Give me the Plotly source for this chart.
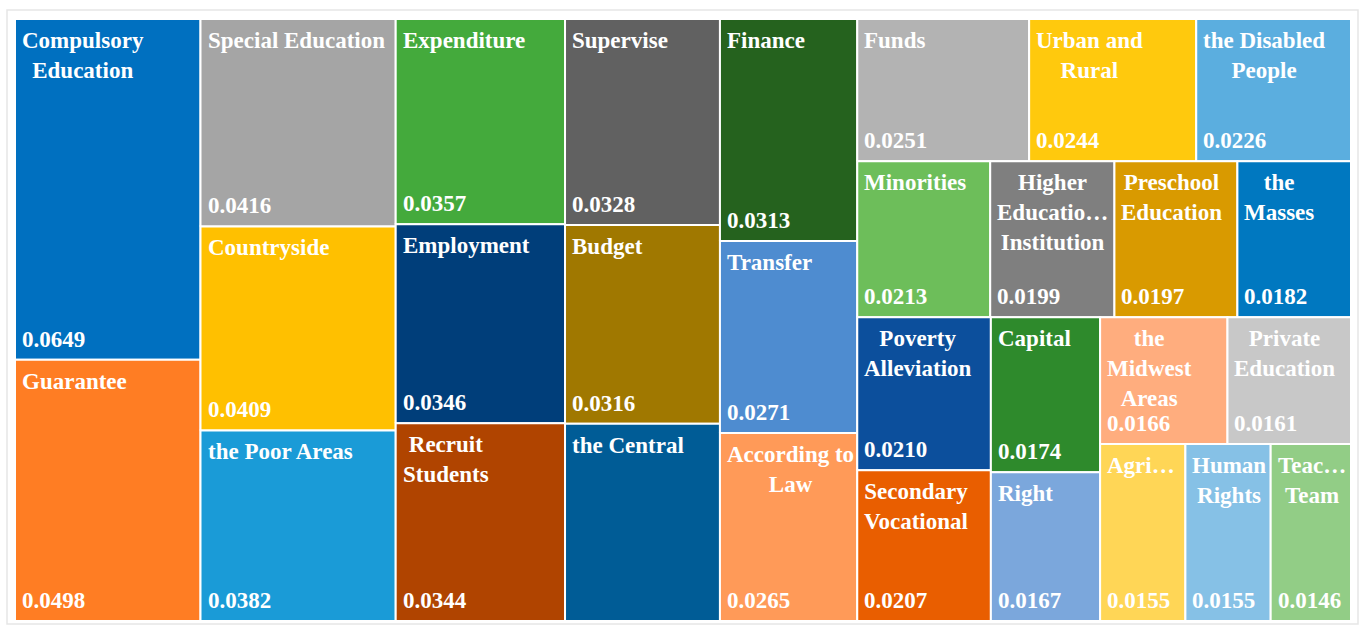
import plotly.graph_objects as go

# ---------------- data ----------------
categories = [
    "Compulsory Education", "Guarantee",
    "Special Education", "Countryside", "the Poor Areas",
    "Expenditure", "Employment", "Recruit Students",
    "Supervise", "Budget", "the Central",
    "Finance", "Transfer", "According to Law",
    "Funds", "Urban and Rural", "the Disabled People",
    "Minorities", "Higher Education Institution", "Preschool Education", "the Masses",
    "Poverty Alleviation", "Secondary Vocational",
    "Capital", "Right",
    "the Midwest Areas", "Private Education",
    "Agri…", "Human Rights", "Teac… Team",
]

display_labels = [
    "Compulsory<br>Education", "Guarantee",
    "Special Education", "Countryside", "the Poor Areas",
    "Expenditure", "Employment", "Recruit<br>Students",
    "Supervise", "Budget", "the Central",
    "Finance", "Transfer", "According to<br>Law",
    "Funds", "Urban and<br>Rural", "the Disabled<br>People",
    "Minorities", "Higher<br>Educatio…<br>Institution", "Preschool<br>Education", "the<br>Masses",
    "Poverty<br>Alleviation", "Secondary<br>Vocational",
    "Capital", "Right",
    "the<br>Midwest<br>Areas", "Private<br>Education",
    "Agri…", "Human<br>Rights", "Teac…<br>Team",
]

values = [
    0.0649, 0.0498,
    0.0416, 0.0409, 0.0382,
    0.0357, 0.0346, 0.0344,
    0.0328, 0.0316, 0.0314,
    0.0313, 0.0271, 0.0265,
    0.0251, 0.0244, 0.0226,
    0.0213, 0.0199, 0.0197, 0.0182,
    0.0210, 0.0207,
    0.0174, 0.0167,
    0.0166, 0.0161,
    0.0155, 0.0155, 0.0146,
]

colors = [
    "#0070C0", "#FF7D23",
    "#A5A5A5", "#FFC000", "#1A9BD7",
    "#44AA3C", "#003E7A", "#B04400",
    "#616161", "#A07800", "#005C96",
    "#25621E", "#4E8CD0", "#FF9A58",
    "#B3B3B3", "#FFC90D", "#5BAEDF",
    "#6DBE5A", "#7F7F7F", "#D99A00", "#0078C0",
    "#0C4F9C", "#E95E00",
    "#2E8A2C", "#7BA7DC",
    "#FFAD7E", "#C8C8C8",
    "#FFD656", "#86C1E6", "#92CD86",
]

# strip grouping of the treemap (h = side by side, v = stacked), items by index
strips = ("h", [
    ("v", [0, 1]),
    ("v", [2, 3, 4]),
    ("v", [5, 6, 7]),
    ("v", [8, 9, 10]),
    ("v", [11, 12, 13]),
    ("v", [
        ("h", [14, 15, 16]),
        ("h", [17, 18, 19, 20]),
        ("h", [
            ("v", [21, 22]),
            ("v", [23, 24]),
            ("v", [("h", [25, 26]), ("h", [27, 28, 29])]),
        ]),
    ]),
])


# ---------------- layout computation from the values ----------------
def node_value(node):
    if isinstance(node, int):
        return values[node]
    return sum(node_value(k) for k in node[1])


def split(node, x0, y0, x1, y1, out):
    orient, kids = node
    total = node_value(node)
    pos = x0 if orient == "h" else y1
    for k in kids:
        frac = node_value(k) / total
        if orient == "h":
            nxt = pos + frac * (x1 - x0)
            rect = (pos, y0, nxt, y1)
        else:
            nxt = pos - frac * (y1 - y0)
            rect = (x0, nxt, x1, pos)
        pos = nxt
        if isinstance(k, int):
            out[k] = rect
        else:
            split(k, *rect, out)


rects = {}
split(strips, 0.0, 0.0, 1.0, 1.0, rects)

# ---------------- figure ----------------
W, H = 1362, 626
ML, MR, MT, MB = 15, 11, 19, 5
FONT = "Liberation Serif, Times New Roman, serif"

fig = go.Figure()
annotations = []
for i, name in enumerate(categories):
    x0, y0, x1, y1 = rects[i]
    fig.add_trace(go.Scatter(
        x=[x0, x1, x1, x0, x0], y=[y0, y0, y1, y1, y0],
        mode="lines", fill="toself", fillcolor=colors[i],
        line=dict(color="white", width=2),
        hoverinfo="text", text=f"{name}: {values[i]:.4f}",
        showlegend=False,
    ))
    annotations.append(dict(
        x=x0, y=y1, xref="x", yref="y", xanchor="left", yanchor="top",
        xshift=5, yshift=-7, align="center", showarrow=False,
        text=f"<b>{display_labels[i]}</b>",
        font=dict(family=FONT, size=23, color="white"),
    ))
    annotations.append(dict(
        x=x0, y=y0, xref="x", yref="y", xanchor="left", yanchor="bottom",
        xshift=5, yshift=6, align="left", showarrow=False,
        text=f"<b>{values[i]:.4f}</b>",
        font=dict(family=FONT, size=23, color="white"),
    ))

pw, ph = W - ML - MR, H - MT - MB
frame = dict(
    type="rect", xref="paper", yref="paper",
    x0=(7 - ML) / pw, x1=(1358 - ML) / pw,
    y0=-(624 - (H - MB)) / ph, y1=1 + (MT - 10) / ph,
    line=dict(color="#E6E6E6", width=1.5), fillcolor="rgba(0,0,0,0)",
    layer="below",
)

fig.update_layout(
    width=W, height=H,
    margin=dict(l=ML, r=MR, t=MT, b=MB, pad=0),
    paper_bgcolor="white", plot_bgcolor="white",
    xaxis=dict(range=[0, 1], visible=False, fixedrange=True),
    yaxis=dict(range=[0, 1], visible=False, fixedrange=True),
    annotations=annotations,
    shapes=[frame],
    showlegend=False,
)

fig.write_html("out.html")
